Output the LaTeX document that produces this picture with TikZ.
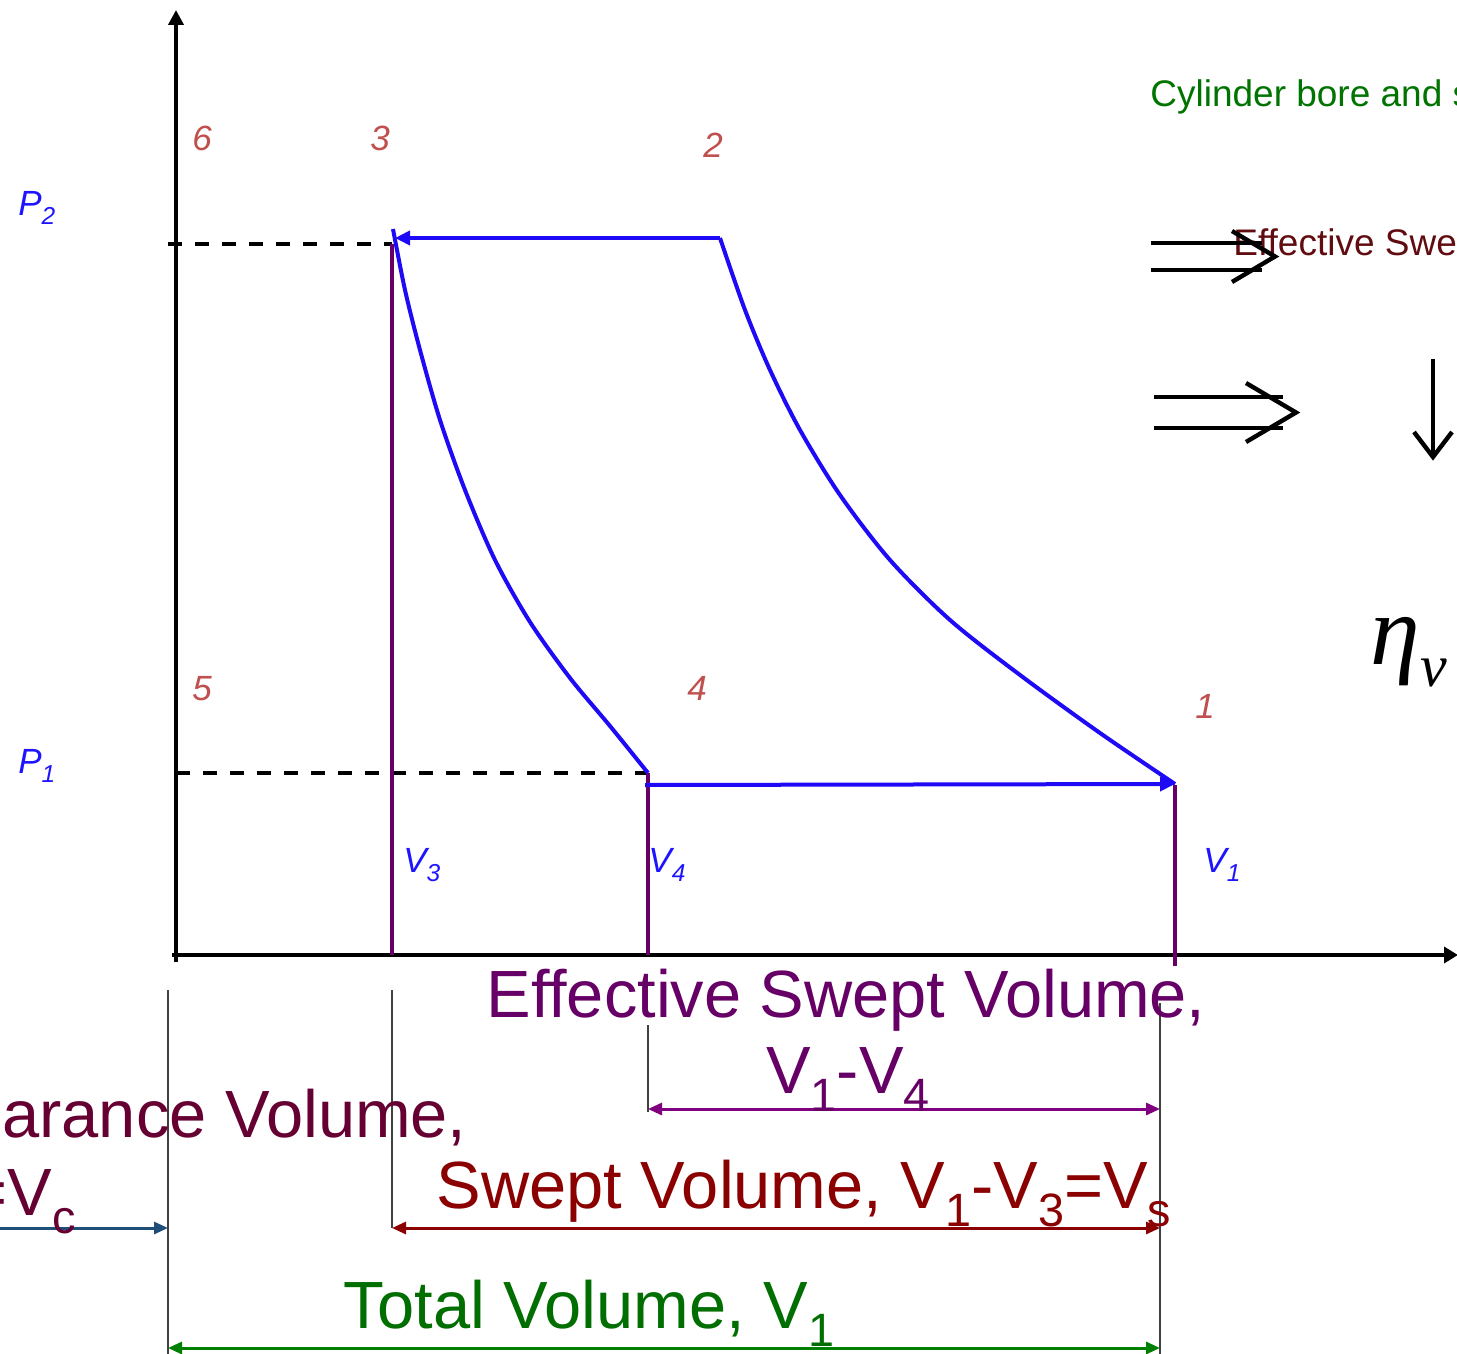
\documentclass[tikz,border=0pt]{standalone}
\usepackage{fontspec}
\setmainfont{Liberation Sans}
\newfontfamily\grk{Liberation Serif}
\usepackage{graphicx}
\usetikzlibrary{arrows.meta}
\newcommand\sbs[1]{\raisebox{-0.28em}{\scalebox{0.7}{#1}}}
\definecolor{cyc}{RGB}{30,10,245}
\definecolor{vln}{RGB}{102,0,102}
\definecolor{ptred}{RGB}{192,80,77}
\definecolor{lblue}{RGB}{30,20,255}
\definecolor{effc}{RGB}{102,0,102}
\definecolor{effa}{RGB}{128,0,128}
\definecolor{clrt}{RGB}{102,0,51}
\definecolor{clra}{RGB}{31,78,121}
\definecolor{swpt}{RGB}{139,0,0}
\definecolor{tott}{RGB}{0,110,0}
\definecolor{tota}{RGB}{0,128,0}
\definecolor{effsw}{RGB}{96,12,16}
\definecolor{cylg}{RGB}{0,115,0}
\begin{document}
\begin{tikzpicture}[x=0.5pt,y=-0.5pt,
  axis/.style={line width=2pt,black},
  dashln/.style={line width=2pt,black,dash pattern=on 7pt off 6.5pt},
  vline/.style={line width=1.6pt,vln},
  cycle/.style={line width=2pt,cyc},
  ext/.style={line width=0.8pt,black!75},
  ptlbl/.style={inner sep=0pt,anchor=base west,text=ptred,font=\fontsize{17.5}{20}\selectfont\itshape},
  axlbl/.style={inner sep=0pt,anchor=base west,text=lblue,font=\fontsize{17.5}{20}\selectfont\itshape},
  big/.style={inner sep=0pt,font=\fontsize{33.4}{38}\selectfont},
  mid/.style={inner sep=0pt,anchor=base west,font=\fontsize{18.5}{22}\selectfont},
  symb/.style={line width=2.2pt,black,line join=miter},
  dimtip/.style={-{Triangle[length=7pt,width=6pt]}},
  dimboth/.style={{Triangle[length=7pt,width=6pt]}-{Triangle[length=7pt,width=6pt]}}
]
\clip (0,0) rectangle (1457,1354);
\fill[white] (0,0) rectangle (1457,1354);

% named points
\coordinate (O) at (176,962);
\coordinate (Ytip) at (176,10);
\coordinate (Xo) at (172,955);
\coordinate (Xtip) at (1458,955);
\coordinate (p2) at (720,238);
\coordinate (p3a) at (395,238);
\coordinate (p3) at (393,229);
\coordinate (p4) at (648,773);
\coordinate (p4b) at (645,785);
\coordinate (p1) at (1175,784);

% axes
\draw[axis,-{Triangle[length=7.5pt,width=7.5pt]}] (O) -- (Ytip);
\draw[axis,-{Triangle[length=7pt,width=8pt]}] (Xo) -- (Xtip);

% dashed pressure lines
\draw[dashln] (168,244) -- (392,244);
\draw[dashln] (176,773) -- (648,773);

% volume verticals
\draw[vline] (392,244) -- (392,955);
\draw[vline] (648,773) -- (648,955);
\draw[vline] (1175,785) -- (1175,966);

% cycle
\draw[cycle,-{Triangle[length=7.5pt,width=7pt]}] (p2) -- (p3a);
\draw[cycle] plot[smooth,tension=0.5] coordinates {(p3) (405,290) (420,350) (440,420) (465,490) (495,560) (530,622) (570,678) (610,726) (p4)};
\draw[cycle] plot[smooth,tension=0.5] coordinates {(p2) (745,310) (770,370) (800,430) (840,495) (890,560) (950,620) (1020,675) (1100,733) (p1)};
\draw[cycle,-{Triangle[length=7.5pt,width=7pt]}] (p4b) -- (p1);

% point labels
\node[ptlbl] (n6) at (192,151) {6};
\node[ptlbl] (n3) at (370,151) {3};
\node[ptlbl] (n2) at (703,157) {2};
\node[ptlbl] (n5) at (192,700) {5};
\node[ptlbl] (n4) at (687,700) {4};
\node[ptlbl] (n1) at (1195,718) {1};

\node[axlbl] (P2) at (18,215) {P\sbs{2}};
\node[axlbl] (P1) at (18,773) {P\sbs{1}};
\node[axlbl] (V3) at (403,872) {V\sbs{3}};
\node[axlbl] (V4) at (648,872) {V\sbs{4}};
\node[axlbl] (V1) at (1203,872) {V\sbs{1}};

% extension lines
\draw[ext] (168,990) -- (168,1354);
\draw[ext] (392,990) -- (392,1228);
\draw[ext] (648,1025) -- (648,1112);
\draw[ext] (1160,1003) -- (1160,1354);

% dimension arrows
\coordinate (e1) at (648,1109);
\coordinate (e2) at (1160,1109);
\coordinate (c1) at (-5,1228);
\coordinate (c2) at (168,1228);
\coordinate (s1) at (392,1228);
\coordinate (s2) at (1160,1228);
\coordinate (t1) at (168,1348);
\coordinate (t2) at (1160,1348);
\draw[line width=1.5pt,effa,dimboth] (e1) -- (e2);
\draw[line width=1.5pt,clra,dimtip] (c1) -- (c2);
\draw[line width=1.5pt,swpt,dimboth] (s1) -- (s2);
\draw[line width=1.5pt,tota,dimboth] (t1) -- (t2);

% dimension texts
\node[big,anchor=base,text=effc] (eff1) at (846,1017) {Effective Swept Volume,};
\node[big,anchor=base,text=effc] (eff2) at (848,1093) {V\sbs{1}-V\sbs{4}};
\node[big,anchor=base east,text=clrt] (clr1) at (467,1137) {Clearance Volume,};
\node[big,anchor=base east,text=clrt] (clr2) at (76,1215) {V\sbs{3}=V\sbs{c}};
\node[big,anchor=base,text=swpt] (swp) at (804,1208) {Swept Volume, V\sbs{1}-V\sbs{3}=V\sbs{s}};
\node[big,anchor=base,text=tott] (tot) at (589,1328) {Total Volume, V\sbs{1}};

% right side
\node[mid,text=cylg] (cyl) at (1150,107) {Cylinder bore and s};
\node[mid,text=effsw] (esw) at (1233,256) {Effective Swe};
\node[inner sep=0pt,anchor=base west,font=\grk\itshape\fontsize{50}{60}\selectfont] (eta) at (1370,664) {η\raisebox{-0.22em}{\fontsize{30}{30}\selectfont v}};

% implication symbols
\draw[symb] (1151,243) -- (1262,243);
\draw[symb] (1151,270) -- (1262,270);
\draw[symb] (1232,231) -- (1275,256.5) -- (1232,282);
\draw[symb] (1154,397) -- (1283,397);
\draw[symb] (1154,428) -- (1283,428);
\draw[symb] (1246,383) -- (1296,412.5) -- (1246,442);
\draw[symb] (1433,359) -- (1433,454);
\draw[symb] (1414,432) -- (1433,457) -- (1452,432);
\end{tikzpicture}
\end{document}
